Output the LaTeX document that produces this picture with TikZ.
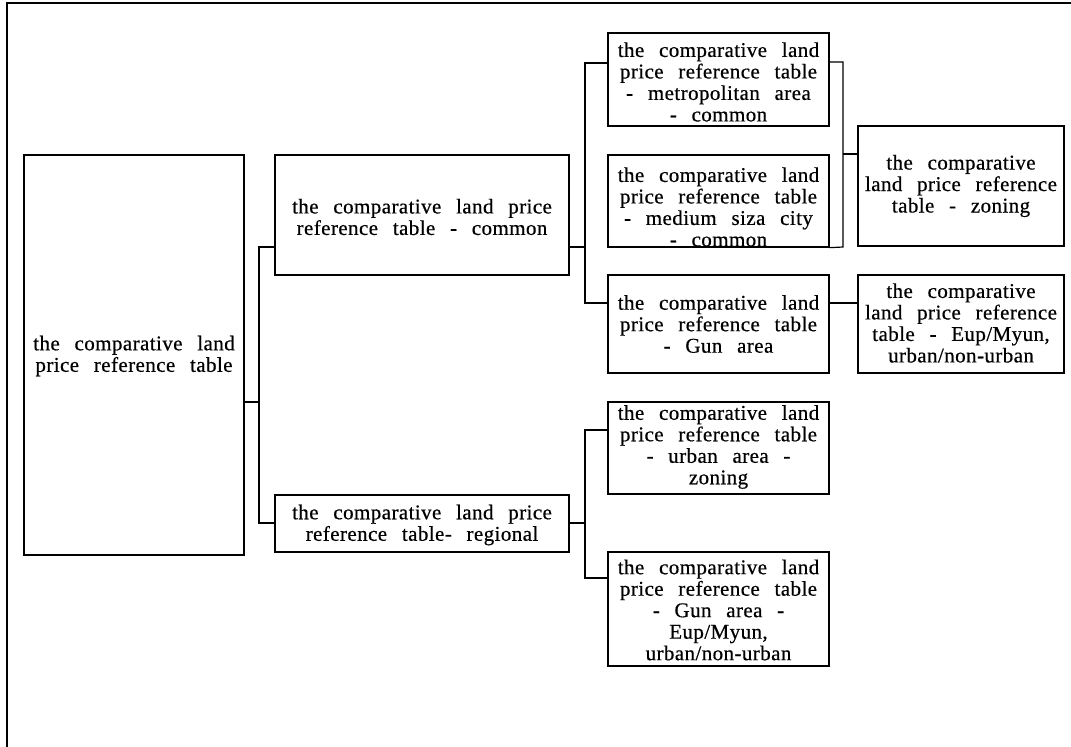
\documentclass[tikz,border=0pt]{standalone}
\usepackage{fontspec}
\setmainfont{Liberation Serif}[LetterSpace=2,WordSpace=2.6,FakeBold=0.5]
\usetikzlibrary{fit}
\begin{document}
\begin{tikzpicture}[x=1pt,y=-1pt,line width=1.3pt,
  box/.style={draw,inner sep=0pt},
  txt/.style={align=center,inner sep=0pt,font=\fontsize{21}{21.5}\selectfont},
  conn/.style={line width=1.2pt}]
\useasboundingbox (0,0) rectangle (1071,747);
\draw[line width=2pt] (7,747) -- (7,3) -- (1071,3);
% boxes
\node[box,fit={(24,155) (244,555)}] (root) {};
\node[box,fit={(275,155) (569,275)}] (common) {};
\node[box,fit={(275,495) (569,552)}] (regional) {};
\node[box,fit={(608,33) (829,126)}] (metro) {};
\node[box,fit={(608,155) (829,247)}] (medium) {};
\node[box,fit={(608,275) (829,373)}] (gun) {};
\node[box,fit={(858,126) (1064,246)}] (zoning) {};
\node[box,fit={(858,275) (1064,373)}] (eup) {};
\node[box,fit={(608,402) (829,494)}] (urban) {};
\node[box,fit={(608,552) (829,666)}] (guneup) {};
% texts
\node[txt] (rootT) at (134,356) {the comparative land\\price reference table};
\node[txt] (commonT) at (422,217) {the comparative land price\\reference table - common};
\node[txt] (regionalT) at (422,525) {the comparative land price\\reference table- regional};
\node[txt] (metroT) at (718.5,82) {the comparative land\\price reference table\\- metropolitan area\\- common};
\node[txt] (mediumT) at (718.5,207) {the comparative land\\price reference table\\- medium siza city\\- common};
\node[txt] (gunT) at (718.5,324) {the comparative land\\price reference table\\- Gun area};
\node[txt] (zoningT) at (961,186) {the comparative\\land price reference\\table - zoning};
\node[txt] (eupT) at (961,323) {the comparative\\land price reference\\table - Eup/Myun,\\urban/non-urban};
\node[txt] (urbanT) at (718.5,447) {the comparative land\\price reference table\\- urban area -\\zoning};
\node[txt] (guneupT) at (718.5,610) {the comparative land\\price reference table\\- Gun area -\\Eup/Myun,\\urban/non-urban};
% connectors
\coordinate (t1a) at (259,247);
\coordinate (t1r) at (259,402);
\coordinate (t1b) at (259,523);
\draw[conn] (root.east |- t1r) -- (t1r);
\draw[conn] (t1a -| common.west) -- (t1a) -- (t1b) -- (t1b -| regional.west);
\coordinate (t2a) at (585,63);
\coordinate (t2c) at (585,247);
\coordinate (t2b) at (585,303);
\draw[conn] (common.east |- t2c) -- (t2c);
\draw[conn] (t2a -| metro.west) -- (t2a) -- (t2b) -- (t2b -| gun.west);
\coordinate (t3a) at (843,62);
\coordinate (t3b) at (843,247);
\coordinate (t3z) at (843,154);
\draw[conn] (metro.east |- t3a) -- (t3a) -- (t3b) -- (medium.south east);
\draw[conn] (t3z) -- (t3z -| zoning.west);
\draw[conn] (gun.east |- t2b) -- (eup.west |- t2b);
\coordinate (t4a) at (585,430);
\coordinate (t4c) at (585,523);
\coordinate (t4b) at (585,578);
\draw[conn] (regional.east |- t4c) -- (t4c);
\draw[conn] (t4a -| urban.west) -- (t4a) -- (t4b) -- (t4b -| guneup.west);
\end{tikzpicture}
\end{document}
